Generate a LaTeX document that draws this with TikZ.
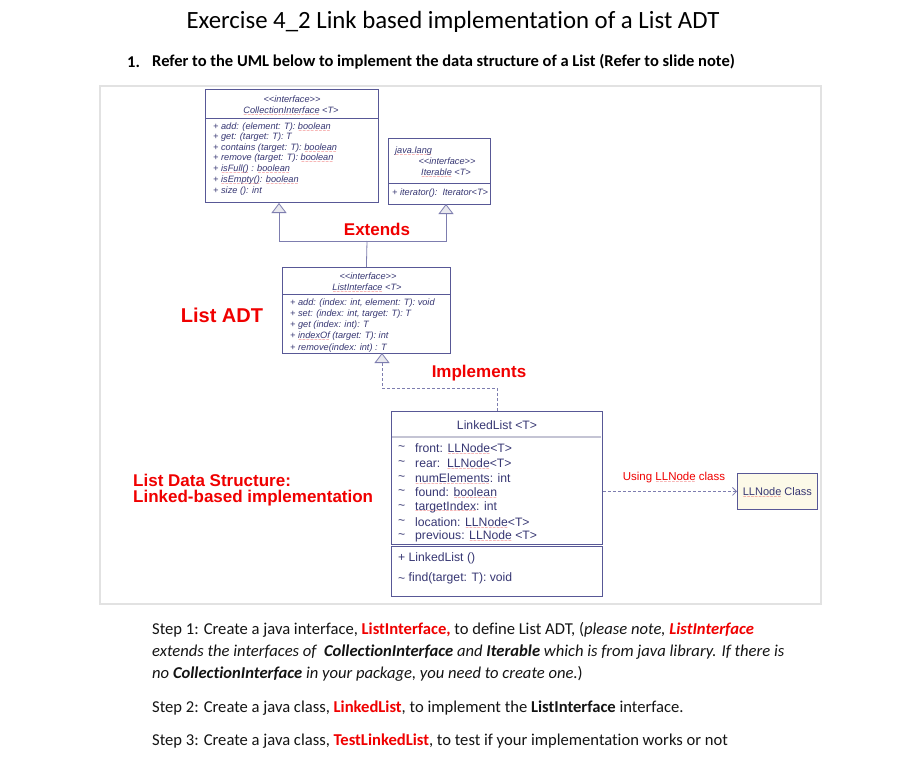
\documentclass[tikz,border=0pt]{standalone}
\usepackage{fontspec}
\setmainfont{Carlito}[Ligatures=NoCommon]
\newfontfamily\umlf{Liberation Sans}
\newfontfamily\dvs{DejaVu Sans}
\usetikzlibrary{arrows.meta}
\definecolor{umlline}{RGB}{88,88,150}
\definecolor{umltext}{RGB}{55,55,115}
\definecolor{connline}{RGB}{125,125,175}
\definecolor{trifill}{RGB}{232,232,238}
\definecolor{framegray}{RGB}{226,226,226}
\definecolor{hdrgray}{RGB}{196,196,212}
\definecolor{cream}{RGB}{252,249,232}
\definecolor{redtxt}{RGB}{240,0,0}
\definecolor{squig}{RGB}{235,70,70}
\definecolor{steptxt}{RGB}{20,20,20}
\newcommand\myfs[1]{\fontsize{#1}{#1}\selectfont}
\newcommand\tld{\raisebox{-1.5pt}{\textasciitilde}}
\newcommand\sq[1]{\setbox0\hbox{#1}\rlap{\smash{\raisebox{-2.8pt}{\hbox to \wd0{\color{squig}\dvs\fontsize{4.5}{4.5}\selectfont\xleaders\hbox{\char"223C}\hfil}}}}\box0\relax}
\begin{document}
\begin{tikzpicture}[x=1pt,y=-1pt,
  txt/.style={inner sep=0pt, anchor=west},
  ctxt/.style={inner sep=0pt, anchor=center},
  umlbox/.style={draw=umlline, line width=0.8pt, fill=white, inner sep=0pt, anchor=north west},
  uit/.style={font=\umlf\itshape\myfs{9.2}, text=umltext},
  ureg/.style={font=\umlf\myfs{12.2}, text=umltext},
  redbig/.style={font=\umlf\bfseries\myfs{17}, text=redtxt},
  steps/.style={txt, font=\myfs{16.6}, text=steptxt},
  conn/.style={draw=connline, line width=0.8pt},
  tri/.style={-{Triangle[open, fill=trifill, length=10pt, width=15pt]}},
  divline/.style={draw=umlline, line width=0.8pt}
]
\useasboundingbox (0,0) rectangle (904,765);
\fill[white] (0,0) rectangle (904,765);

% title and heading
\node[ctxt, font=\myfs{24.8}] (title) at (453,22) {Exercise 4\_2 Link based implementation of a List ADT};
\node[txt, font=\bfseries\myfs{16.5}] (num) at (127,62) {1.};
\node[txt, font=\bfseries\myfs{16.5}] (head) at (152,62) {Refer to the UML below to implement the data structure of a List (Refer to slide note)};

% frame
\draw[draw=framegray, line width=1.5pt] (100,86) rectangle (821,604);

% CollectionInterface
\node[umlbox, minimum width=173pt, minimum height=113pt] (ci) at (205,89) {};
\draw[divline] (205,118) -- (378,118);
\node[ctxt, uit] (ci0) at (292,99) {<<interface>>};
\node[ctxt, uit] (ci1) at (291,110) {\sq{CollectionInterface} <T>};
\node[txt, uit] (cim1) at (213,127) {+ add: (element: T): \sq{boolean}};
\node[txt, uit] (cim2) at (213,137.5) {+ get: (target: T): T};
\node[txt, uit] (cim3) at (213,148) {+ contains (target: T): \sq{boolean}};
\node[txt, uit] (cim4) at (213,158.5) {+ remove (target: T): \sq{boolean}};
\node[txt, uit] (cim5) at (213,169.5) {+ \sq{isFull()} : \sq{boolean}};
\node[txt, uit] (cim6) at (213,180.5) {+ \sq{isEmpty()}: \sq{boolean}};
\node[txt, uit] (cim7) at (213,191.5) {+ size (): int};

% Iterable
\node[umlbox, minimum width=102pt, minimum height=66pt] (it) at (388,138) {};
\draw[divline] (388,183) -- (490,183);
\node[txt, uit] (it0) at (395,151) {\sq{java.lang}};
\node[ctxt, uit] (it1) at (447,161) {<<interface>>};
\node[ctxt, uit] (it2) at (446,172) {\sq{Iterable} <T>};
\node[txt, uit] (itm1) at (392,193) {+ iterator():\ \ Iterator<T>};

% ListInterface
\node[umlbox, minimum width=168pt, minimum height=86pt] (li) at (282,267) {};
\draw[divline] (282,294) -- (450,294);
\node[ctxt, uit] (li0) at (368,276) {<<interface>>};
\node[ctxt, uit] (li1) at (367,287) {\sq{ListInterface} <T>};
\node[txt, uit] (lim1) at (290,303) {+ add: (index: int, element: T): void};
\node[txt, uit] (lim2) at (290,314) {+ set: (index: int, target: T): T};
\node[txt, uit] (lim3) at (290,325) {+ get (index: int): T};
\node[txt, uit] (lim4) at (290,336) {+ \sq{indexOf} (target: T): int};
\node[txt, uit] (lim5) at (290,348) {+ remove(index: int) : T};

% Extends connectors
\coordinate (ciB) at (279,203);
\coordinate (itB) at (446,204);
\coordinate (jn) at (367,241);
\draw[conn] (li.north) -- (jn);
\draw[conn, tri] (jn) -| (ciB);
\draw[conn, tri] (jn) -| (itB);
\node[ctxt, redbig] (ext) at (377,229) {Extends};

\node[ctxt, font=\umlf\bfseries\myfs{20}, text=redtxt] (adt) at (222,315) {List ADT};

% LinkedList
\node[umlbox, minimum width=211pt, minimum height=133pt] (ll) at (391,411) {};
\draw[draw=hdrgray, line width=2.5pt] (392,437) -- (601,437);
\node[ctxt, ureg] (ll0) at (497,425) {LinkedList <T>};
\foreach \i/\yy/\t in {1/448/{front: \sq{LLNode}<T>}, 2/463/{rear:\ \ \sq{LLNode}<T>}, 3/478/{\sq{numElements}: int}, 4/492.5/{found: \sq{boolean}}, 5/507/{\sq{targetIndex}: int}, 6/522/{location: \sq{LLNode}<T>}, 7/536.5/{previous: \sq{LLNode} <T>}} {
  \node[txt, ureg] (lla\i t) at (398,\yy) {\tld};
  \node[txt, ureg] (lla\i) at (415,\yy) {\t};
}
\node[umlbox, minimum width=211pt, minimum height=50pt] (llm) at (391,546) {};
\node[txt, ureg] (llm1) at (398,558) {+ LinkedList ()};
\node[txt, ureg] (llm2) at (398,578) {\tld\ find(target: T): void};

% Implements connector
\coordinate (liB) at (382,353);
\coordinate (ibend) at (382,388);
\draw[conn, dashed, dash pattern=on 3pt off 2pt, tri] (ll.north) |- (ibend) -- (liB);
\node[ctxt, redbig] (impl) at (479,373) {Implements};

% LLNode
\node[umlbox, fill=cream, minimum width=80pt, minimum height=36pt] (lln) at (737,473) {};
\node[ctxt, font=\umlf\myfs{11}, text=umltext] (lln0) at (lln.center) {\sq{LLNode} Class};
\draw[conn, dashed, dash pattern=on 3pt off 2pt, -{Straight Barb[length=4pt, width=8pt]}] (lln.west -| ll.east) -- (lln.west);
\node[ctxt, font=\umlf\myfs{11.5}, text=redtxt] (using) at (674,478) {Using \sq{LLNode} class};

% List data structure
\node[txt, redbig] (lds1) at (133,480) {List Data Structure:};
\node[txt, redbig] (lds2) at (133,498) {Linked-based implementation};

% Steps
\node[steps] (s1a) at (152,630) {Step 1: Create a java interface, {\bfseries\color{redtxt}ListInterface,} to define List ADT, (\textit{please note, \textbf{\color{redtxt}ListInterface}}};
\node[steps] (s1b) at (152,652) {\textit{extends the interfaces of\ \ \textbf{CollectionInterface} and \textbf{Iterable} which is from java library. If there is}};
\node[steps] (s1c) at (152,674) {\textit{no \textbf{CollectionInterface} in your package, you need to create one.})};
\node[steps] (s2) at (152,708) {Step 2: Create a java class, {\bfseries\color{redtxt}LinkedList}, to implement the \textbf{ListInterface} interface.};
\node[steps] (s3) at (152,741) {Step 3: Create a java class, {\bfseries\color{redtxt}TestLinkedList}, to test if your implementation works or not};
\end{tikzpicture}
\end{document}
